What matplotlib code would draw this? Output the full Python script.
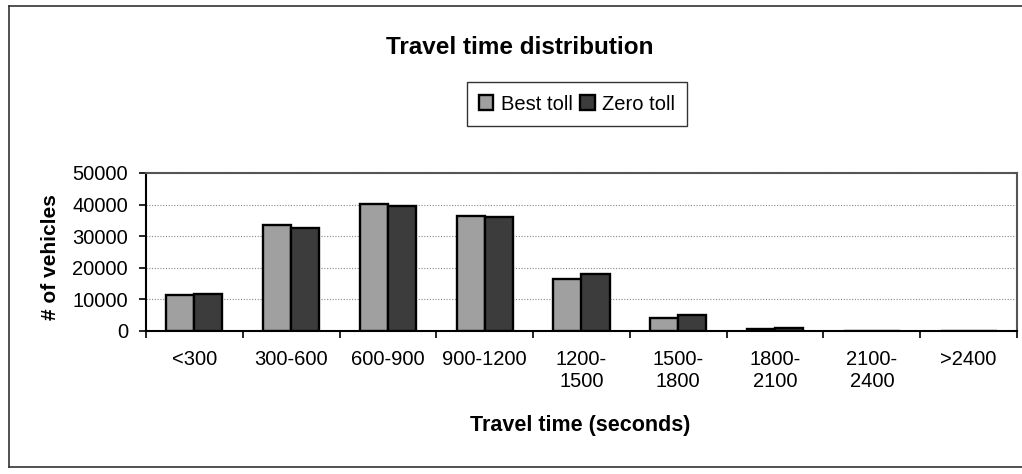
import matplotlib
matplotlib.use("Agg")
import matplotlib.pyplot as plt
from matplotlib.lines import Line2D
import numpy as np

plt.rcParams["font.family"] = ["Liberation Sans", "DejaVu Sans"]

categories = ["<300", "300-600", "600-900", "900-1200", "1200-\n1500",
              "1500-\n1800", "1800-\n2100", "2100-\n2400", ">2400"]
best_toll = [11500, 33500, 40300, 36500, 16500, 4200, 700, 60, 20]
zero_toll = [11600, 32600, 39700, 36100, 17900, 5200, 900, 80, 20]
y_ticks = [0, 10000, 20000, 30000, 40000, 50000]

W, H = 1022, 474
fig = plt.figure(figsize=(W / 100, H / 100), dpi=100)
fig.patch.set_facecolor("white")

# outer chart frame
for xs, ys in [((9, 9), (6, 467)), ((9, W), (6, 6)), ((9, W), (467, 467))]:
    fig.add_artist(Line2D([x / W for x in xs], [1 - y / H for y in ys],
                          transform=fig.transFigure, color="#333333", lw=1.2))

ax = fig.add_axes([146 / W, (H - 331) / H, (1017 - 146) / W, (331 - 173) / H])

x = np.arange(len(categories))
bw = 0.29
ax.bar(x - bw / 2, best_toll, bw, color="#a0a0a0", edgecolor="black",
       linewidth=1.7, label="Best toll", zorder=3)
ax.bar(x + bw / 2, zero_toll, bw, color="#3c3c3c", edgecolor="black",
       linewidth=1.7, label="Zero toll", zorder=3)

ax.set_xlim(-0.5, len(categories) - 0.5)
ax.set_ylim(0, 50000)
ax.set_yticks(y_ticks)
ax.set_yticklabels([str(v) for v in y_ticks])
ax.set_xticks(x)
ax.set_xticklabels(categories, linespacing=1.2)
ax.set_xticks(np.arange(-0.5, len(categories)), minor=True)
ax.tick_params(axis="x", which="major", length=0, pad=14, labelsize=14.5)
ax.tick_params(axis="x", which="minor", length=5, width=1.2, direction="out")
ax.tick_params(axis="y", length=5, width=1.2, direction="out", pad=8,
               labelsize=14.5)

ax.yaxis.grid(True, linestyle=(0, (1, 1.5)), color="#888888", linewidth=0.8,
              zorder=0)
for side in ("left", "bottom"):
    ax.spines[side].set_color("black")
    ax.spines[side].set_linewidth(1.5)
for side in ("top", "right"):
    ax.spines[side].set_color("#555555")
    ax.spines[side].set_linewidth(1.5)

fig.text(520 / W, 1 - 47 / H, "Travel time distribution", ha="center",
         va="center", fontsize=17.5, fontweight="bold")
fig.text(580 / W, 1 - 425 / H, "Travel time (seconds)", ha="center",
         va="center", fontsize=15.5, fontweight="bold")
fig.text(50 / W, 1 - 257 / H, "# of vehicles", ha="center", va="center",
         rotation=90, fontsize=15, fontweight="bold")

leg = fig.legend(loc="center", bbox_to_anchor=(577 / W, 1 - 104 / H), ncol=2,
                 fontsize=14.5, frameon=True, fancybox=False, edgecolor="black",
                 handlelength=0.7, handleheight=0.7, handletextpad=0.35,
                 columnspacing=0.4, borderpad=0.6)
leg.get_frame().set_linewidth(1.0)

fig.savefig("out.png", dpi=100, facecolor="white")
